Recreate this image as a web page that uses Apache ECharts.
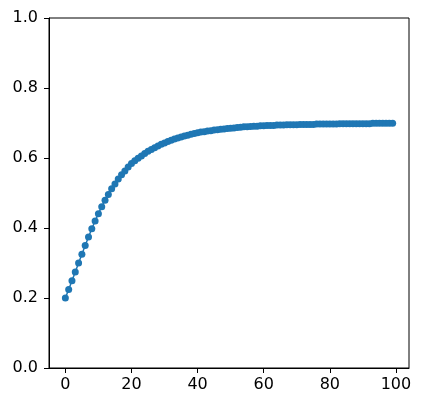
<!DOCTYPE html>
<html>
<head>
<meta charset="utf-8">
<script src="https://cdn.jsdelivr.net/npm/echarts@6/dist/echarts.min.js"></script>
<style>html,body{margin:0;padding:0;background:#fff}#c{width:423px;height:408px}</style>
</head>
<body>
<div id="c"></div>
<script>
const xValues = [0,1,2,3,4,5,6,7,8,9,10,11,12,13,14,15,16,17,18,19,20,21,22,23,24,25,26,27,28,29,30,31,32,33,34,35,36,37,38,39,40,41,42,43,44,45,46,47,48,49,50,51,52,53,54,55,56,57,58,59,60,61,62,63,64,65,66,67,68,69,70,71,72,73,74,75,76,77,78,79,80,81,82,83,84,85,86,87,88,89,90,91,92,93,94,95,96,97,98,99];
const yValues = [0.200,0.224,0.249,0.274,0.300,0.325,0.350,0.374,0.398,0.420,0.441,0.461,0.479,0.496,0.512,0.526,0.540,0.552,0.563,0.574,0.584,0.592,0.599,0.606,0.613,0.619,0.624,0.629,0.634,0.639,0.643,0.647,0.651,0.654,0.657,0.660,0.663,0.665,0.668,0.670,0.672,0.674,0.675,0.677,0.678,0.680,0.681,0.682,0.683,0.684,0.685,0.686,0.687,0.688,0.689,0.689,0.690,0.691,0.691,0.692,0.692,0.693,0.693,0.693,0.694,0.694,0.694,0.695,0.695,0.695,0.695,0.696,0.696,0.696,0.696,0.696,0.697,0.697,0.697,0.697,0.697,0.697,0.697,0.698,0.698,0.698,0.698,0.698,0.698,0.698,0.698,0.698,0.698,0.699,0.699,0.699,0.699,0.699,0.699,0.699];
const xTicks = [0,20,40,60,80,100];
const yTicks = [0.0,0.2,0.4,0.6,0.8,1.0];

const chart = echarts.init(document.getElementById('c'), null, {renderer:'canvas'});
const font = 'DejaVu Sans';
chart.setOption({
  animation:false,
  backgroundColor:'#ffffff',
  grid:{left:49,right:14,top:18,bottom:40,show:true,borderColor:'#000',borderWidth:1,backgroundColor:'transparent'},
  xAxis:{
    type:'value', min:-4.95, max:103.95,
    axisLine:{show:true,onZero:false,lineStyle:{color:'#000',width:1}},
    axisTick:{show:true,length:5,inside:false,customValues:xTicks,lineStyle:{color:'#000',width:1}},
    axisLabel:{show:true,customValues:xTicks,margin:9,color:'#000',fontFamily:font,fontSize:16},
    splitLine:{show:false}
  },
  yAxis:{
    type:'value', min:0, max:1, interval:0.2,
    axisLine:{show:true,onZero:false,lineStyle:{color:'#000',width:1}},
    axisTick:{show:true,length:5,inside:false,lineStyle:{color:'#000',width:1}},
    axisLabel:{show:true,margin:11,color:'#000',fontFamily:font,fontSize:16,
      formatter:function(v){return v.toFixed(1);}},
    splitLine:{show:false}
  },
  series:[{
    type:'line',
    data:xValues.map((x,i)=>[x,yValues[i]]),
    lineStyle:{color:'#1f77b4',width:1.5},
    itemStyle:{color:'#1f77b4'},
    symbol:'circle', symbolSize:7, showSymbol:true,
    emphasis:{disabled:true}
  }]
});
</script>
</body>
</html>
